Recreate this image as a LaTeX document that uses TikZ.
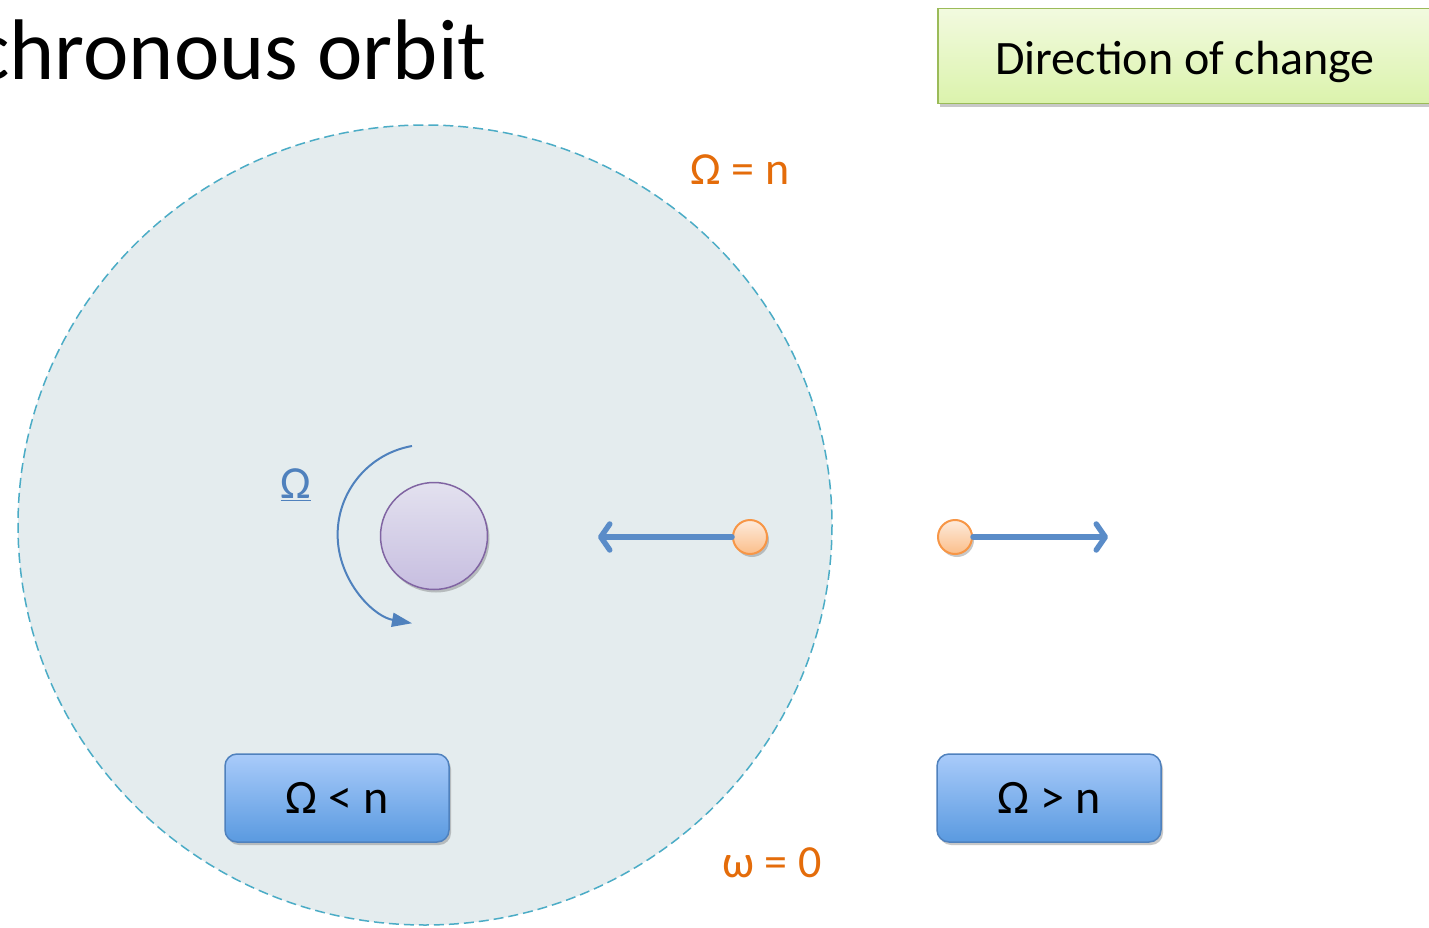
\documentclass[tikz,border=0pt]{standalone}
\usepackage{fontspec}
\setmainfont{Carlito}
\usetikzlibrary{shadows,arrows.meta}
\definecolor{orbitfill}{HTML}{E4ECEE}
\definecolor{orbitline}{HTML}{4BACC6}
\definecolor{orangetxt}{HTML}{E46C0A}
\definecolor{bluearc}{HTML}{4F81BD}
\definecolor{bluearrow}{HTML}{5A8CC8}
\definecolor{planettop}{HTML}{E3E1EF}
\definecolor{planetbot}{HTML}{C7BEE0}
\definecolor{planetline}{HTML}{8064A2}
\definecolor{dottop}{HTML}{FDEBDC}
\definecolor{dotbot}{HTML}{FBBE8A}
\definecolor{dotline}{HTML}{F79646}
\definecolor{boxtop}{HTML}{A9CBFA}
\definecolor{boxbot}{HTML}{5A9AE0}
\definecolor{boxline}{HTML}{4F81BD}
\definecolor{greentop}{HTML}{F2FADF}
\definecolor{greenbot}{HTML}{DBF3AC}
\definecolor{greenline}{HTML}{9BBB59}
\tikzset{
  shadowed/.style={drop shadow={opacity=0.3, shadow xshift=2pt, shadow yshift=-3pt, fill=black!70}},
  condbox/.style={draw=boxline, line width=1.5pt, rounded corners=12pt, top color=boxtop, bottom color=boxbot,
    minimum width=224pt, minimum height=88pt, font=\fontsize{48}{54}\selectfont, shadowed},
  dotnode/.style={circle, draw=dotline, line width=2pt, top color=dottop, bottom color=dotbot, minimum size=34pt, inner sep=0pt, shadowed},
  moveline/.style={draw=bluearrow, line width=5.5pt, line cap=round, -{Straight Barb[length=9pt,width=26pt,line cap=round,line join=round]}},
  orangelabel/.style={text=orangetxt, font=\fontsize{46}{52}\selectfont, inner sep=0pt}
}
\begin{document}
\begin{tikzpicture}[x=1pt,y=-1pt]
\useasboundingbox (0,0) rectangle (1429,928);
\fill[white] (0,0) rectangle (1429,928);
% orbit region
\draw[orbitline, fill=orbitfill, line width=1.5pt, dash pattern=on 10pt off 5pt] (425,525) ellipse [x radius=407, y radius=400];
% title
\node[anchor=base east, inner sep=0pt, font=\fontsize{86}{96}\selectfont] (title) at (487,80) {chronous orbit};
% direction of change box
\node[draw=greenline, line width=1.5pt, top color=greentop, bottom color=greenbot, shadowed,
  minimum width=500pt, minimum height=95pt, anchor=north west] (dirbox) at (937,8) {};
\node[font=\fontsize{48}{56}\selectfont, inner sep=0pt] (dirtxt) at (1185,62) {Direction of change};
% labels
\node[orangelabel] (eqn) at (740,170) {Ω = n};
\node[orangelabel] (omz) at (772,863) {ω = 0};
\node[text=bluearc, font=\fontsize{46}{52}\selectfont, inner sep=0pt] (omlab) at (296,485) {\underline{Ω}};
% planet
\node[circle, draw=planetline, line width=1.5pt, top color=planettop, bottom color=planetbot, minimum size=107pt, inner sep=0pt, shadowed] (planet) at (434,536) {};
% rotation arrow
\coordinate (arcstart) at (412,446);
\draw[bluearc, line width=2pt, -{Stealth[length=20pt,width=14pt,inset=0pt]}] (arcstart) arc[start angle=260, end angle=100, radius=90];
% moving satellites
\coordinate (tipL) at (598,537);
\coordinate (tipR) at (1108,537);
\node[dotnode] (dotL) at (750,537) {};
\node[dotnode] (dotR) at (955,537) {};
\draw[moveline] (dotL.west) -- (tipL);
\draw[moveline] (dotR.east) -- (tipR);
% condition boxes
\node[condbox] (lt) at (337,798) {Ω < n};
\node[condbox] (gt) at (1049,798) {Ω > n};
\end{tikzpicture}
\end{document}
